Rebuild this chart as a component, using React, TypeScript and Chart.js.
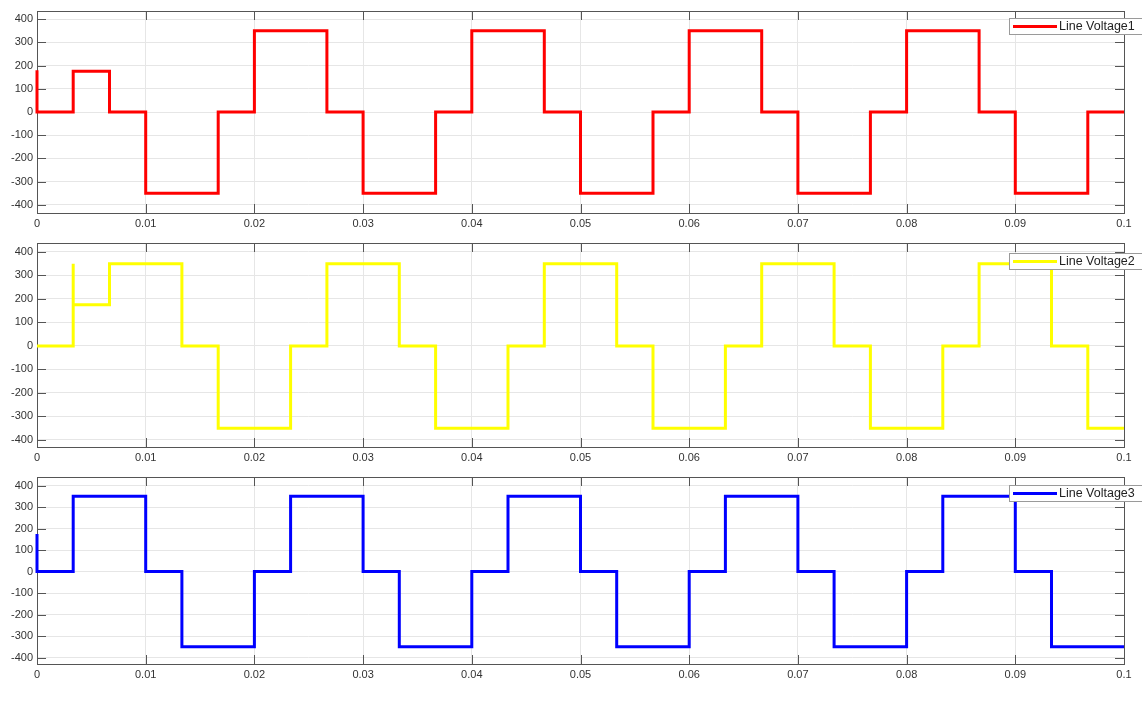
import React, { useEffect, useRef } from 'react';
import { Chart, registerables } from 'chart.js';

Chart.register(...registerables);

// ---- Data ----
const xTickValues = [0, 0.01, 0.02, 0.03, 0.04, 0.05, 0.06, 0.07, 0.08, 0.09, 0.1];
const xTickLabels = ['0', '0.01', '0.02', '0.03', '0.04', '0.05', '0.06', '0.07', '0.08', '0.09', '0.1'];
const yTickValues = [-400, -300, -200, -100, 0, 100, 200, 300, 400];

const seriesLabels = ['Line Voltage1', 'Line Voltage2', 'Line Voltage3'];

// Line Voltage1 (breakpoint times; value holds from each time onward)
const v1Times = [0, 0, 0.00333, 0.00667, 0.01, 0.01667, 0.02, 0.02667, 0.03, 0.03667, 0.04, 0.04667, 0.05, 0.05667, 0.06, 0.06667, 0.07, 0.07667, 0.08, 0.08667, 0.09, 0.09667, 0.1];
const v1Values = [180, 0, 175, 0, -350, 0, 350, 0, -350, 0, 350, 0, -350, 0, 350, 0, -350, 0, 350, 0, -350, 0, 0];

// Line Voltage2
const v2Times = [0, 0.00333, 0.00333, 0.00667, 0.01333, 0.01667, 0.02333, 0.02667, 0.03333, 0.03667, 0.04333, 0.04667, 0.05333, 0.05667, 0.06333, 0.06667, 0.07333, 0.07667, 0.08333, 0.08667, 0.09333, 0.09667, 0.1];
const v2Values = [0, 350, 175, 350, 0, -350, 0, 350, 0, -350, 0, 350, 0, -350, 0, 350, 0, -350, 0, 350, 0, -350, -350];

// Line Voltage3
const v3Times = [0, 0, 0.00333, 0.01, 0.01333, 0.02, 0.02333, 0.03, 0.03333, 0.04, 0.04333, 0.05, 0.05333, 0.06, 0.06333, 0.07, 0.07333, 0.08, 0.08333, 0.09, 0.09333, 0.1];
const v3Values = [175, 0, 350, 0, -350, 0, 350, 0, -350, 0, 350, 0, -350, 0, 350, 0, -350, 0, 350, 0, -350, -350];

// ---- Styles ----
const FONT = "'Liberation Sans', Arial, Helvetica, sans-serif";
const AXIS_COLOR = '#555555';
const GRID_COLOR = '#e6e6e6';
const LABEL_COLOR = '#333333';
const TICK_LEN = 9;

const panels = [
  { label: seriesLabels[0], times: v1Times, values: v1Values, color: '#ff0000', top: 0, height: 232, xAxisHeight: 19, yMin: -435, yMax: 435, legendOffset: 7 },
  { label: seriesLabels[1], times: v2Times, values: v2Values, color: '#ffff00', top: 232, height: 234, xAxisHeight: 19, yMin: -430, yMax: 438, legendOffset: 10 },
  { label: seriesLabels[2], times: v3Times, values: v3Values, color: '#0000ff', top: 466, height: 240, xAxisHeight: 42, yMin: -430, yMax: 440, legendOffset: 8 },
];

const matlabAxes = {
  id: 'matlabAxes',
  beforeDatasetsDraw(chart: any) {
    const { ctx, chartArea: a, scales } = chart;
    ctx.save();
    ctx.strokeStyle = AXIS_COLOR;
    ctx.lineWidth = 1;
    ctx.beginPath();
    for (const t of scales.x.ticks) {
      const px = Math.round(scales.x.getPixelForValue(t.value)) + 0.5;
      ctx.moveTo(px, a.bottom);
      ctx.lineTo(px, a.bottom - TICK_LEN);
      ctx.moveTo(px, a.top);
      ctx.lineTo(px, a.top + TICK_LEN);
    }
    for (const t of scales.y.ticks) {
      const py = Math.round(scales.y.getPixelForValue(t.value)) + 0.5;
      ctx.moveTo(a.left, py);
      ctx.lineTo(a.left + TICK_LEN, py);
      ctx.moveTo(a.right, py);
      ctx.lineTo(a.right - TICK_LEN, py);
    }
    ctx.stroke();
    ctx.strokeRect(Math.round(a.left) + 0.5, Math.round(a.top) + 0.5, Math.round(a.right - a.left), Math.round(a.bottom - a.top));
    ctx.restore();
  },
};

const boxLegend = {
  id: 'boxLegend',
  afterDatasetsDraw(chart: any, _args: any, opts: any) {
    const { ctx, chartArea: a } = chart;
    const ds = chart.data.datasets[0];
    const x = 1009;
    const y = a.top + opts.offset;
    const h = 16;
    ctx.save();
    ctx.fillStyle = '#ffffff';
    ctx.fillRect(x, y, 160, h);
    ctx.strokeStyle = '#9a9a9a';
    ctx.lineWidth = 1;
    ctx.strokeRect(x + 0.5, y + 0.5, 160, h);
    ctx.strokeStyle = ds.borderColor;
    ctx.lineWidth = 3;
    ctx.beginPath();
    ctx.moveTo(x + 4, y + h / 2 + 0.5);
    ctx.lineTo(x + 48, y + h / 2 + 0.5);
    ctx.stroke();
    ctx.fillStyle = '#222222';
    ctx.font = `12.5px ${FONT}`;
    ctx.textBaseline = 'middle';
    ctx.textAlign = 'left';
    ctx.fillText(ds.label, x + 50, y + h / 2 + 1);
    ctx.restore();
  },
};

function Panel({ p }: { p: typeof panels[number] }) {
  const ref = useRef<HTMLCanvasElement>(null);
  useEffect(() => {
    if (!ref.current) return;
    const chart = new Chart(ref.current, {
      type: 'line',
      data: {
        datasets: [
          {
            label: p.label,
            data: p.times.map((t, i) => ({ x: t, y: p.values[i] })),
            borderColor: p.color,
            backgroundColor: p.color,
            borderWidth: 3,
            stepped: 'before',
            pointRadius: 0,
            fill: false,
            clip: 4,
          },
        ],
      },
      options: {
        animation: false,
        responsive: false,
        maintainAspectRatio: false,
        layout: { padding: { top: 11, right: 18, left: 0, bottom: 0 } },
        plugins: {
          legend: { display: false },
          tooltip: { enabled: false },
          boxLegend: { offset: p.legendOffset },
        } as any,
        scales: {
          x: {
            type: 'linear',
            min: 0,
            max: 0.1,
            afterBuildTicks: (s: any) => {
              s.ticks = xTickValues.map((v) => ({ value: v }));
            },
            afterFit: (s: any) => {
              s.height = p.xAxisHeight;
            },
            ticks: {
              autoSkip: false,
              maxRotation: 0,
              padding: 4,
              color: LABEL_COLOR,
              font: { family: FONT, size: 11 },
              callback: (_v: any, i: number) => xTickLabels[i],
            },
            grid: { color: GRID_COLOR, drawTicks: false },
            border: { display: false },
          },
          y: {
            type: 'linear',
            min: p.yMin,
            max: p.yMax,
            afterBuildTicks: (s: any) => {
              s.ticks = yTickValues.map((v) => ({ value: v }));
            },
            afterFit: (s: any) => {
              s.width = 37;
            },
            ticks: {
              autoSkip: false,
              padding: 4,
              color: LABEL_COLOR,
              font: { family: FONT, size: 11 },
              callback: (v: any) => String(v),
            },
            grid: { color: GRID_COLOR, drawTicks: false },
            border: { display: false },
          },
        },
      },
      plugins: [matlabAxes, boxLegend],
    } as any);
    return () => chart.destroy();
  }, [p]);
  return (
    <canvas
      ref={ref}
      width={1142}
      height={p.height}
      style={{ position: 'absolute', left: 0, top: p.top, width: 1142, height: p.height, display: 'block' }}
    />
  );
}

export default function App() {
  return (
    <div style={{ position: 'absolute', left: 0, top: 0, width: 1142, height: 706, background: '#ffffff', overflow: 'hidden' }}>
      {panels.map((p) => (
        <Panel key={p.label} p={p} />
      ))}
    </div>
  );
}
